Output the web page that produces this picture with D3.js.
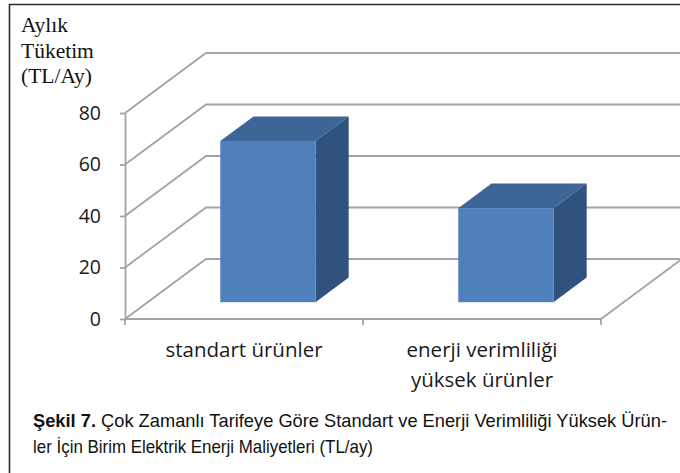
<!DOCTYPE html>
<html>
<head>
<meta charset="utf-8">
<script src="https://cdn.jsdelivr.net/npm/d3@7"></script>
<style>
  html, body { margin: 0; padding: 0; background: #fff; }
  svg { display: block; }
</style>
</head>
<body>
<svg id="chart" width="680" height="473"></svg>
<script>
// Chart data
const categories = ["standart ürünler", "enerji verimliliği yüksek ürünler"];
const categoryLines = [["standart ürünler"], ["enerji verimliliği", "yüksek ürünler"]];
const values = [62.6, 36.5];
const yTicks = [0, 20, 40, 60, 80];
const yTitle = ["Aylık", "Tüketim", "(TL/Ay)"];
const captionBold = "Şekil 7.";
const captionLine1 = " Çok Zamanlı Tarifeye Göre Standart ve Enerji Verimliliği Yüksek Ürün-";
const captionLine2 = "ler İçin Birim Elektrik Enerji Maliyetleri (TL/ay)";

const svg = d3.select("#chart");
const W = 680, H = 473;

// Front plane of the 3-D box and its depth vector
const left = 125, right = 601, base = 319, topY = 113;
const DX = 81, DY = -60;
const gridColor = "#a3a3a3";
const tickFont = "'Open Sans', 'DejaVu Sans', sans-serif";

const y = d3.scaleLinear().domain([0, 80]).range([base, topY]);
const x = d3.scaleBand().domain(categories).range([left, right]);

// Outer frame (top and left edges)
svg.append("path")
  .attr("d", `M9.5,${H} L9.5,4.5 L${W},4.5`)
  .attr("fill", "none").attr("stroke", "#2b2b2b").attr("stroke-width", 1.6);

const plot = svg.append("g");

// Side-wall diagonals and back-wall gridlines
yTicks.forEach(v => {
  const yf = y(v);
  plot.append("path")
    .attr("d", `M${left},${yf} L${left + DX},${yf + DY} L${W + 10},${yf + DY}`)
    .attr("fill", "none").attr("stroke", gridColor).attr("stroke-width", 1.8);
});

// Floor right edge
plot.append("line")
  .attr("x1", right).attr("y1", base)
  .attr("x2", right + DX).attr("y2", base + DY)
  .attr("stroke", gridColor).attr("stroke-width", 1.8);

// Y axis
const yAxis = d3.axisLeft(y).tickValues(yTicks).tickSize(5).tickSizeOuter(0).tickPadding(19);
const gy = plot.append("g").attr("transform", `translate(${left},0)`).call(yAxis);
gy.select(".domain").attr("stroke", gridColor).attr("stroke-width", 1.8);
gy.selectAll(".tick line").attr("stroke", gridColor).attr("stroke-width", 1.8);
gy.selectAll(".tick text")
  .attr("font-family", tickFont).attr("font-size", 19.5).attr("fill", "#1a1a1a");

// X axis: baseline with ticks at category boundaries
plot.append("line")
  .attr("x1", left).attr("y1", base).attr("x2", right).attr("y2", base)
  .attr("stroke", gridColor).attr("stroke-width", 1.8);
const boundaries = categories.map(c => x(c)).concat([x.range()[1]]);
plot.selectAll(".xtick").data(boundaries).join("line")
  .attr("class", "xtick")
  .attr("x1", d => d).attr("x2", d => d)
  .attr("y1", base).attr("y2", base + 6)
  .attr("stroke", gridColor).attr("stroke-width", 1.8);

// Category labels
const xl = plot.selectAll(".xlabel").data(categories).join("text")
  .attr("class", "xlabel")
  .attr("text-anchor", "middle")
  .attr("font-family", tickFont).attr("font-size", 20.5).attr("fill", "#1a1a1a");
xl.each(function(c, i) {
  const t = d3.select(this);
  categoryLines[i].forEach((line, k) => {
    t.append("tspan")
      .attr("x", x(c) + x.bandwidth() / 2)
      .attr("y", base + 38 + k * 30)
      .text(line);
  });
});

// 3-D bars
const f1 = 0.28, f2 = 0.69;            // bar depth, front and back
const barStart = 0.305, barWidth = 0.4;  // share of the category band
const colFront = "#4f80bc", colTop = "#3d6596", colSide = "#30527f";

const bars = plot.selectAll(".bar").data(values).join("g").attr("class", "bar");
bars.each(function(v, i) {
  const g = d3.select(this);
  const x0 = x(categories[i]) + x.bandwidth() * barStart;
  const x1 = x0 + x.bandwidth() * barWidth;
  const y0 = y(0), yv = y(v);
  const fx = f1 * DX, fy = f1 * DY, bx = f2 * DX, by = f2 * DY;
  const pt = (px, py) => `${px},${py}`;
  // top face
  g.append("polygon")
    .attr("points", [pt(x0 + fx, yv + fy), pt(x1 + fx, yv + fy), pt(x1 + bx, yv + by), pt(x0 + bx, yv + by)].join(" "))
    .attr("fill", colTop);
  // right side face
  g.append("polygon")
    .attr("points", [pt(x1 + fx, yv + fy), pt(x1 + bx, yv + by), pt(x1 + bx, y0 + by), pt(x1 + fx, y0 + fy)].join(" "))
    .attr("fill", colSide);
  // front face
  g.append("rect")
    .attr("x", x0 + fx).attr("y", yv + fy)
    .attr("width", x1 - x0).attr("height", y0 - yv)
    .attr("fill", colFront);
});

// Y axis title
const yt = svg.append("text")
  .attr("font-family", "'Liberation Serif', 'Times New Roman', serif")
  .attr("font-size", 21.5).attr("fill", "#111");
yTitle.forEach((line, k) => {
  yt.append("tspan").attr("x", 21).attr("y", 32 + k * 25.5).text(line);
});

// Caption
const capFont = "'Liberation Sans Narrow', 'Arial Narrow', 'Liberation Sans', sans-serif";
const cap1 = svg.append("text")
  .attr("x", 33).attr("y", 427)
  .attr("font-family", capFont).attr("font-size", 18.5).attr("fill", "#111")
  .attr("textLength", 634).attr("lengthAdjust", "spacingAndGlyphs");
cap1.append("tspan").attr("font-weight", "bold").text(captionBold);
cap1.append("tspan").text(captionLine1);
svg.append("text")
  .attr("x", 33).attr("y", 453)
  .attr("font-family", capFont).attr("font-size", 18.5).attr("fill", "#111")
  .attr("textLength", 340).attr("lengthAdjust", "spacingAndGlyphs")
  .text(captionLine2);
</script>
</body>
</html>
